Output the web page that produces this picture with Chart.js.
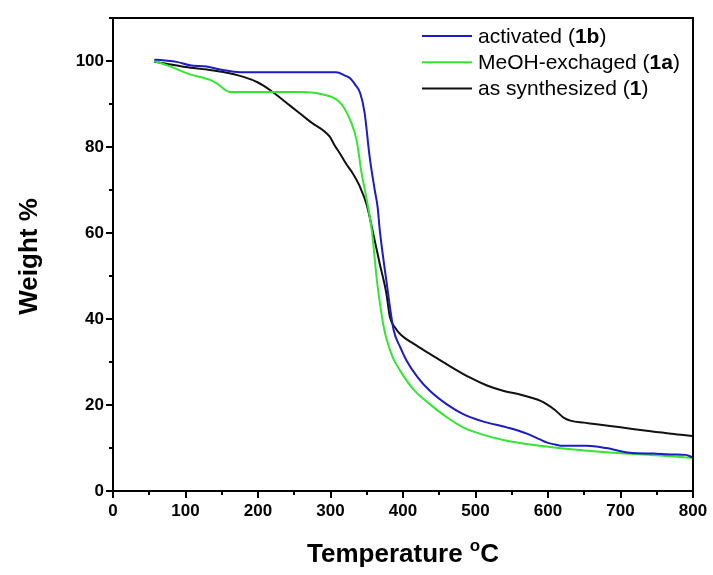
<!DOCTYPE html>
<html>
<head>
<meta charset="utf-8">
<script src="https://cdn.jsdelivr.net/npm/chart.js@4/dist/chart.umd.min.js"></script>
<style>
  html, body { margin: 0; padding: 0; background: #fff; }
  #wrap { width: 713px; height: 575px; }
</style>
</head>
<body>
<div id="wrap"><canvas id="tga" width="713" height="575"></canvas></div>
<script>
// TGA curves (temperature in C, weight in %)
const activatedT = [57, 69, 88, 106, 129, 152, 175, 220, 260, 308, 320, 327, 334, 341, 347, 354, 361, 365, 368, 377, 387, 396, 405, 420, 437, 460, 483, 510, 543, 570, 589, 598, 610, 621, 653, 680, 713, 745, 773, 790, 800];
const activatedW = [100.3, 100.2, 99.8, 99.0, 98.7, 97.9, 97.4, 97.4, 97.4, 97.4, 96.6, 96.0, 94.5, 92.5, 88.0, 77.7, 70.0, 66.0, 60.6, 49.0, 37.5, 33.5, 30.3, 26.5, 23.3, 20.2, 17.9, 16.2, 14.8, 13.4, 12.0, 11.3, 10.8, 10.5, 10.5, 10.0, 8.9, 8.7, 8.5, 8.4, 7.8];

const exchangedT = [57, 78, 106, 134, 143, 161, 200, 258, 299, 310, 318, 329, 336, 343, 348, 357, 364, 373, 377, 386, 396, 415, 437, 460, 483, 510, 543, 589, 621, 690, 750, 800];
const exchangedW = [100, 98.8, 96.9, 95.6, 94.8, 92.8, 92.8, 92.8, 91.8, 90.8, 89.3, 85.5, 81.6, 73.8, 69.5, 60.6, 49.0, 38.5, 35.5, 31.0, 28.0, 23.5, 20.2, 17.2, 14.8, 13.1, 11.7, 10.5, 9.9, 8.9, 8.3, 7.7];

const synthT = [57, 80, 100, 130, 150, 180, 200, 217, 245, 272, 299, 306, 313, 322, 331, 340, 350, 358, 368, 377, 382, 390, 396, 415, 437, 465, 492, 515, 538, 560, 575, 589, 598, 610, 622, 632, 650, 667, 700, 736, 770, 800];
const synthW = [99.8, 99.2, 98.6, 98.0, 97.5, 96.3, 95.0, 93.2, 89.5, 85.9, 82.4, 80.3, 78.5, 76.0, 73.8, 71.0, 66.5, 60.6, 52.8, 46.0, 40.4, 37.8, 36.5, 34.2, 31.9, 29.0, 26.4, 24.6, 23.3, 22.5, 21.8, 21.0, 20.2, 18.8, 17.0, 16.3, 15.9, 15.5, 14.8, 14.0, 13.3, 12.8];

// legend: [plain part, bold part, plain part]
const legendLabels = [['activated (', '1b', ')'], ['MeOH-exchaged (', '1a', ')'], ['as synthesized (', '1', ')']];
const seriesColors = ['#1c1cc4', '#33e633', '#111111'];

const xMin = 0, xMax = 800, xMajor = 100, xMinor = 50;
const yMin = 0, yMax = 110, yMajor = 20, yMinor = 10;

const pts = (t, w) => t.map((v, i) => ({ x: v, y: w[i] }));

const FONT = '"Liberation Sans", Arial, sans-serif';

const framePlugin = {
    id: 'frameAndTicks',
    afterDraw(chart) {
        const { ctx, chartArea: a, scales } = chart;
        ctx.save();
        ctx.strokeStyle = '#000';
        ctx.lineWidth = 2;
        ctx.strokeRect(a.left, a.top, a.right - a.left, a.bottom - a.top);

        // outward tick marks, long on labelled values
        ctx.beginPath();
        for (let v = xMin; v <= xMax; v += xMinor) {
            const px = Math.round(scales.x.getPixelForValue(v));
            const len = v % xMajor === 0 ? 7 : 4;
            ctx.moveTo(px, a.bottom);
            ctx.lineTo(px, a.bottom + len);
        }
        for (let v = yMin; v <= yMax; v += yMinor) {
            const py = Math.round(scales.y.getPixelForValue(v));
            const len = v % yMajor === 0 ? 7 : 4;
            ctx.moveTo(a.left, py);
            ctx.lineTo(a.left - len, py);
        }
        ctx.stroke();

        // axis titles
        ctx.fillStyle = '#000';
        ctx.textBaseline = 'alphabetic';
        const big = 'bold 26px ' + FONT, small = 'bold 17px ' + FONT;
        ctx.font = big;
        const main = 'Temperature ';
        const wMain = ctx.measureText(main).width;
        const wC = ctx.measureText('C').width;
        ctx.font = small;
        const wSup = ctx.measureText('o').width;
        const cx = (a.left + a.right) / 2;
        const x0 = cx - (wMain + wSup + wC) / 2;
        const base = 562;
        ctx.textAlign = 'left';
        ctx.font = big;
        ctx.fillText(main, x0, base);
        ctx.font = small;
        ctx.fillText('o', x0 + wMain, base - 11);
        ctx.font = big;
        ctx.fillText('C', x0 + wMain + wSup, base);

        ctx.save();
        ctx.translate(37, (a.top + a.bottom) / 2 + 2);
        ctx.rotate(-Math.PI / 2);
        ctx.textAlign = 'center';
        ctx.fillText('Weight %', 0, 0);
        ctx.restore();

        // legend with bold sample ids
        ctx.textBaseline = 'middle';
        legendLabels.forEach((parts, i) => {
            const y = 36 + i * 26.3;
            ctx.strokeStyle = seriesColors[i];
            ctx.lineWidth = 2;
            ctx.beginPath();
            ctx.moveTo(422, y);
            ctx.lineTo(472, y);
            ctx.stroke();
            let x = 478;
            parts.forEach((p, k) => {
                ctx.font = (k === 1 ? 'bold ' : '') + '21px ' + FONT;
                ctx.fillStyle = '#000';
                ctx.fillText(p, x, y + 1);
                x += ctx.measureText(p).width;
            });
        });
        ctx.restore();
    }
};

const lineSet = (label, t, w, color) => ({
    label,
    data: pts(t, w),
    borderColor: color,
    borderWidth: 2,
    pointRadius: 0,
    fill: false,
    cubicInterpolationMode: 'monotone'
});

new Chart(document.getElementById('tga'), {
    type: 'line',
    data: {
        datasets: [
            lineSet('activated (1b)', activatedT, activatedW, seriesColors[0]),
            lineSet('MeOH-exchaged (1a)', exchangedT, exchangedW, seriesColors[1]),
            lineSet('as synthesized (1)', synthT, synthW, seriesColors[2])
        ]
    },
    options: {
        responsive: false,
        animation: false,
        layout: { padding: { top: 18, right: 20, left: 0, bottom: 0 } },
        plugins: { legend: { display: false }, tooltip: { enabled: false } },
        scales: {
            x: {
                type: 'linear',
                min: xMin, max: xMax,
                grid: { display: false, drawTicks: false },
                border: { display: false },
                ticks: {
                    stepSize: xMinor,
                    autoSkip: false,
                    maxRotation: 0,
                    padding: 10,
                    color: '#000',
                    font: { family: FONT, size: 17, weight: 'bold' },
                    callback: v => (v % xMajor === 0 ? String(v) : '')
                },
                afterFit: s => { s.height = 84; s.paddingRight = 0; s.paddingLeft = 0; }
            },
            y: {
                min: yMin, max: yMax,
                grid: { display: false, drawTicks: false },
                border: { display: false },
                ticks: {
                    stepSize: yMinor,
                    autoSkip: false,
                    padding: 9,
                    color: '#000',
                    font: { family: FONT, size: 17, weight: 'bold' },
                    callback: v => (v % yMajor === 0 ? String(v) : '')
                },
                afterFit: s => { s.width = 113; s.paddingTop = 0; s.paddingBottom = 0; }
            }
        }
    },
    plugins: [framePlugin]
});
</script>
</body>
</html>
